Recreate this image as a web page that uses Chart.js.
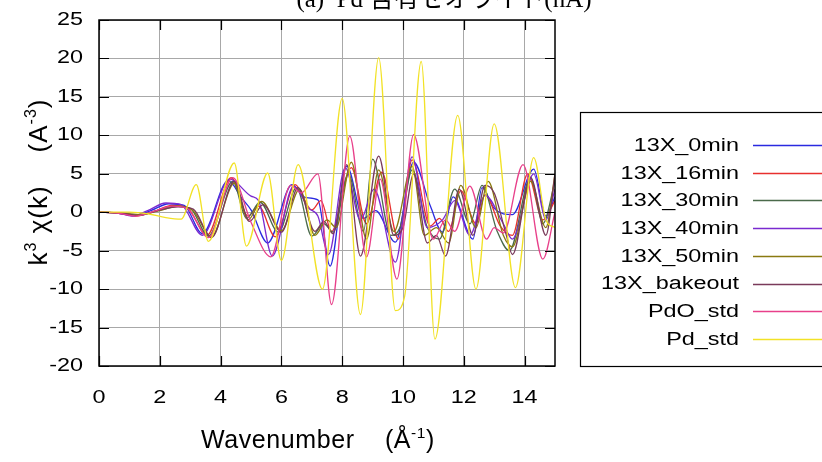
<!DOCTYPE html>
<html>
<head>
<meta charset="utf-8">
<script src="https://cdn.jsdelivr.net/npm/chart.js@4.4.1/dist/chart.umd.min.js"></script>
<style>
  body { margin: 0; background: #fff; }
  canvas { display: block; }
</style>
</head>
<body>
<canvas id="exafsChart" width="822" height="462"></canvas>
<script>
// series names and colours (legend order)
const seriesNames = ['13X_0min', '13X_16min', '13X_30min', '13X_40min', '13X_50min', '13X_bakeout', 'PdO_std', 'Pd_std'];
const seriesColors = ['#2a2ae0', '#e8302e', '#4a6a4a', '#7a2ad0', '#8a7a10', '#7a3a5a', '#e8408a', '#f2e226'];

// k values (1/A) and k^3 chi(k) values, one pair per series
const k0min = [0, 0.6, 1.2, 1.7, 2.3, 2.8, 3.4, 4.25, 4.7, 5.0, 5.55, 6.35, 6.8, 7.2, 7.6, 8.15, 8.7, 9.1, 9.75, 10.35, 10.9, 11.3, 11.65, 12.3, 12.6, 13.0, 13.6, 14.3, 14.7, 15];
const chi0min = [0, -0.1, -0.4, 0.2, 1.1, 0.9, -2.8, 4.1, 1.8, 0.3, -4.0, 3.6, 1.9, 1.6, -7.0, 6.0, -0.8, 0.2, -3.9, 6.5, 0.8, -2.6, 2.0, -3.5, 3.2, 0.5, -0.3, 5.6, -0.5, 2];

const k16min = [0, 0.6, 1.2, 1.8, 2.4, 2.9, 3.55, 4.35, 4.9, 5.25, 5.8, 6.45, 7.0, 7.3, 7.65, 8.3, 8.8, 9.3, 9.85, 10.3, 10.9, 11.2, 11.5, 11.9, 12.4, 12.7, 13.2, 13.6, 14.1, 14.6, 15];
const chi16min = [0, -0.1, -0.5, 0.1, 0.9, 0.6, -3.0, 4.5, -0.5, 0.8, -3.2, 3.6, 0.3, 1.5, -2.5, 5.8, -1.5, 5.2, -3.5, 6.8, -1.8, -0.8, -2.5, 2.8, -1.5, 2.3, -1.8, -3.0, 5.0, -1.0, 1.5];

const k30min = [0, 0.7, 1.3, 1.9, 2.5, 3.0, 3.6, 4.4, 4.85, 5.3, 5.9, 6.5, 7.0, 7.4, 7.7, 8.2, 8.7, 9.0, 9.6, 9.9, 10.3, 10.8, 11.2, 11.7, 12.2, 12.6, 13.1, 13.5, 14.2, 14.6, 15];
const chi30min = [0, -0.1, -0.4, 0.2, 0.8, 0.5, -3.1, 4.0, -0.8, 1.3, -2.6, 3.2, -3.1, -1.5, -2.6, 5.0, -2.5, 6.9, -3.0, -2.0, 5.5, -2.0, -3.5, 3.0, -1.5, 3.5, -2.5, -5.0, 4.5, -1.5, 4];

const k40min = [0, 0.6, 1.1, 1.6, 2.2, 2.7, 3.4, 4.3, 5.0, 5.25, 5.7, 6.4, 6.9, 7.2, 7.55, 8.1, 8.6, 9.05, 9.75, 10.3, 10.8, 11.3, 11.7, 12.2, 12.7, 13.3, 13.6, 14.3, 14.7, 15];
const chi40min = [0, -0.1, -0.5, 0.2, 1.2, 1.0, -3.0, 4.3, 2.1, 1.5, -5.7, 3.4, 0.5, -0.5, -5.5, 5.8, -1.0, 3.0, -6.5, 7.2, -2.0, -1.0, 1.5, -3.0, 2.2, -1.5, -3.5, 5.0, -1.0, 3];

const k50min = [0, 0.7, 1.3, 2.0, 2.6, 3.1, 3.7, 4.45, 4.9, 5.35, 6.0, 6.6, 7.1, 7.5, 7.8, 8.3, 8.8, 9.2, 9.7, 10.3, 10.7, 11.1, 11.5, 11.9, 12.4, 12.8, 13.3, 13.6, 14.2, 14.7, 15];
const chi50min = [0, -0.1, -0.3, 0.2, 0.8, 0.2, -3.2, 3.8, -1.0, 1.4, -2.4, 3.0, -3.0, -1.0, -2.0, 6.5, -3.5, 5.5, -2.5, 6.0, -3.0, -2.0, -4.0, 3.5, -2.0, 4.0, -3.0, -4.5, 4.0, -2.0, 5];

const kBakeout = [0, 0.7, 1.3, 2.0, 2.6, 3.1, 3.7, 4.45, 4.95, 5.4, 6.0, 6.55, 7.1, 7.4, 7.7, 8.15, 8.6, 9.2, 9.7, 10.0, 10.35, 10.8, 11.1, 11.4, 11.85, 12.3, 12.7, 13.0, 13.4, 13.6, 14.2, 14.7, 15];
const chiBakeout = [0, -0.1, -0.4, 0.3, 0.7, 0.4, -3.3, 4.0, -1.2, 1.0, -2.6, 3.2, -2.5, -1.2, -2.8, 6.2, -5.7, 7.3, -3.0, -2.0, 5.0, -4.0, -3.0, -5.7, 3.0, -3.0, 3.5, 2.5, -3.0, -5.5, 4.5, -3.0, 5];

const kPdO = [0, 0.6, 1.2, 1.8, 2.4, 2.9, 3.6, 4.4, 5.0, 5.65, 6.3, 6.65, 7.2, 7.65, 8.25, 8.8, 9.25, 9.8, 10.35, 11.0, 11.4, 11.7, 12.2, 12.75, 13.0, 13.3, 13.95, 14.6, 15];
const chiPdO = [0, -0.1, -0.5, 0.1, 0.8, 0.5, -3.3, 4.5, -1.3, -5.8, 3.5, 2.5, 5.0, -12.0, 9.9, -5.8, 4.3, -8.7, 10.1, -3.5, -1.0, -2.5, 3.4, -3.5, -2.0, -2.7, 6.2, -6.1, 0];

const kPd = [0, 1.0, 1.6, 2.2, 2.7, 3.2, 3.6, 4.45, 4.85, 5.55, 6.0, 6.55, 7.35, 8.0, 8.6, 9.2, 9.75, 10.05, 10.6, 11.05, 11.8, 12.4, 13.0, 13.7, 14.3, 14.7, 15];
const chiPd = [0, 0, -0.2, -0.7, -0.9, 3.6, -3.8, 6.4, -4.4, 5.1, -6.3, 6.2, -10.0, 14.8, -13.3, 20.1, -12.8, -11.0, 19.6, -16.5, 12.6, -10.0, 11.5, -9.8, 7.1, -1.0, -2.0];

const kTicks = [0, 2, 4, 6, 8, 10, 12, 14];

const seriesK = [k0min, k16min, k30min, k40min, k50min, kBakeout, kPdO, kPd];
const seriesChi = [chi0min, chi16min, chi30min, chi40min, chi50min, chiBakeout, chiPdO, chiPd];

const FONT = '"Liberation Sans", Arial, sans-serif';
const WIDE = 1.3; // the labels in the picture are stretched sideways

function drawRich(ctx, parts, x, y, size) {
  // centred text with superscript parts
  let total = 0;
  parts.forEach(p => {
    ctx.font = (p.sup ? size * 0.62 : size) + 'px ' + FONT;
    p.w = ctx.measureText(p.t).width;
    total += p.w;
  });
  let cx = x - total / 2;
  parts.forEach(p => {
    ctx.font = (p.sup ? size * 0.62 : size) + 'px ' + FONT;
    ctx.fillText(p.t, cx, p.sup ? y - size * 0.42 : y);
    cx += p.w;
  });
}

function wideText(ctx, text, x, y) {
  ctx.save();
  ctx.translate(x, y);
  ctx.scale(WIDE, 1);
  ctx.fillText(text, 0, 0);
  ctx.restore();
}

const decorPlugin = {
  id: 'decor',
  afterDraw(chart) {
    const ctx = chart.ctx;
    const { left, right, top, bottom } = chart.chartArea;
    const xs = chart.scales.x;
    const ys = chart.scales.y;
    ctx.save();

    // frame and inward tick marks
    ctx.strokeStyle = '#000';
    ctx.lineWidth = 1.5;
    ctx.strokeRect(left, top, right - left, bottom - top);
    ctx.lineWidth = 1.2;
    ctx.beginPath();
    ys.ticks.forEach(t => {
      const py = Math.round(ys.getPixelForValue(t.value)) + 0.5;
      ctx.moveTo(left, py); ctx.lineTo(left + 10, py);
      ctx.moveTo(right, py); ctx.lineTo(right - 10, py);
    });
    kTicks.forEach(v => {
      const px = Math.round(xs.getPixelForValue(v)) + 0.5;
      ctx.moveTo(px, bottom); ctx.lineTo(px, bottom - 10);
      ctx.moveTo(px, top); ctx.lineTo(px, top + 10);
    });
    ctx.stroke();

    // tick labels
    ctx.fillStyle = '#000';
    ctx.font = '18px ' + FONT;
    ctx.textBaseline = 'middle';
    ctx.textAlign = 'right';
    ys.ticks.forEach(t => {
      wideText(ctx, String(t.value), 83, ys.getPixelForValue(t.value));
    });
    ctx.textAlign = 'center';
    kTicks.forEach(v => {
      wideText(ctx, String(v), xs.getPixelForValue(v), 398);
    });

    // title (cut at the top edge)
    ctx.textAlign = 'center';
    ctx.textBaseline = 'alphabetic';
    ctx.font = '25px "Liberation Serif", "Noto Sans CJK JP", serif';
    ctx.fillText('(a)  Pd 含有ゼオライト(nA)', 444, 7);

    // x axis title
    ctx.textAlign = 'left';
    ctx.letterSpacing = '0.6px';
    drawRich(ctx, [
      { t: 'Wavenumber    (Å' }, { t: '-1', sup: true }, { t: ')' }
    ], 318, 448, 25);

    // y axis title (rotated)
    ctx.save();
    ctx.translate(47, 182);
    ctx.rotate(-Math.PI / 2);
    ctx.letterSpacing = '1px';
    drawRich(ctx, [
      { t: 'k' }, { t: '3', sup: true }, { t: ' χ(k)    (A' }, { t: '-3', sup: true }, { t: ')' }
    ], 0, 0, 26);
    ctx.restore();
    ctx.letterSpacing = '0px';

    // legend box
    ctx.lineWidth = 1.2;
    ctx.strokeStyle = '#000';
    ctx.strokeRect(580.5, 112.5, 260, 254);
    ctx.font = '18px ' + FONT;
    ctx.textAlign = 'right';
    ctx.textBaseline = 'middle';
    chart.data.datasets.forEach((ds, i) => {
      const ry = 145 + i * 27.7;
      ctx.fillStyle = '#000';
      wideText(ctx, ds.label, 739, ry + 1);
      ctx.strokeStyle = ds.borderColor;
      ctx.lineWidth = 1.3;
      ctx.beginPath();
      ctx.moveTo(753, Math.round(ry) + 0.5);
      ctx.lineTo(822, Math.round(ry) + 0.5);
      ctx.stroke();
    });
    ctx.restore();
  }
};

function createChart() {
  const ctx = document.getElementById('exafsChart').getContext('2d');
  const datasets = seriesNames.map((name, i) => ({
    label: name,
    data: seriesK[i].map((k, j) => ({ x: k, y: seriesChi[i][j] })),
    borderColor: seriesColors[i],
    backgroundColor: seriesColors[i],
    borderWidth: 1.3,
    pointRadius: 0,
    cubicInterpolationMode: 'monotone',
    fill: false,
    order: seriesNames.length - i
  }));

  new Chart(ctx, {
    type: 'line',
    data: { datasets: datasets },
    options: {
      responsive: false,
      animation: false,
      layout: { padding: { top: 20, right: 267, left: 0, bottom: 0 } },
      plugins: {
        legend: { display: false },
        tooltip: { enabled: false },
        title: { display: false }
      },
      scales: {
        x: {
          type: 'linear',
          min: 0,
          max: 15,
          afterBuildTicks: scale => { scale.ticks = kTicks.map(v => ({ value: v })); },
          afterFit: scale => { scale.height = 96; },
          grid: { color: '#a8a8a8', lineWidth: 1, drawTicks: false },
          border: { display: false },
          ticks: { display: false }
        },
        y: {
          min: -20,
          max: 25,
          afterFit: scale => { scale.width = 99; },
          grid: { color: '#a8a8a8', lineWidth: 1, drawTicks: false },
          border: { display: false },
          ticks: { display: false, stepSize: 5 }
        }
      }
    },
    plugins: [decorPlugin]
  });
}

window.onload = createChart;
</script>
</body>
</html>
